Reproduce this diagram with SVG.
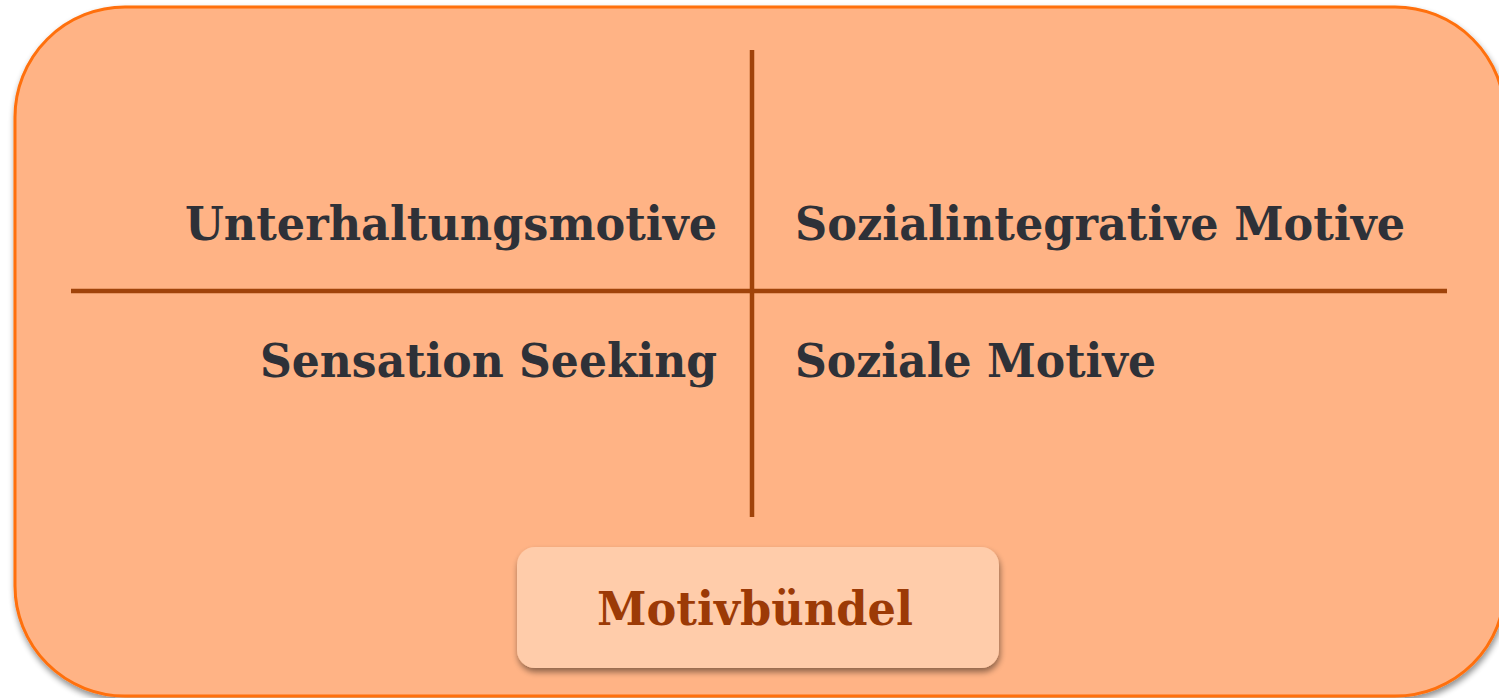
<svg xmlns="http://www.w3.org/2000/svg" width="1499" height="698" viewBox="0 0 1499 698">
<style>
.lbl{font-family:"DejaVu Serif","Liberation Serif",serif;font-weight:bold;font-size:47px;fill:#2E3138}
.div{stroke:#A0430A;stroke-width:4.5;fill:none}
.mb{font-family:"DejaVu Serif","Liberation Serif",serif;font-weight:bold;font-size:47px;fill:#9C3A06}
</style>
<defs>
<filter id="sh" x="-10%" y="-10%" width="120%" height="130%">
<feGaussianBlur in="SourceAlpha" stdDeviation="3"/>
<feOffset dx="1" dy="4" result="b"/>
<feComponentTransfer><feFuncA type="linear" slope="0.45"/></feComponentTransfer>
<feMerge><feMergeNode/><feMergeNode in="SourceGraphic"/></feMerge>
</filter>
</defs>
<rect width="1499" height="698" fill="#FFFFFF"/>
<g id="outer">
<rect x="15" y="7" width="1490" height="689" rx="110" ry="110" fill="#FFB385" stroke="#FF6F0A" stroke-width="3" filter="url(#sh)"/>
</g>
<g id="connectors">
<line class="div" x1="752" y1="50" x2="752" y2="517"/>
<line class="div" x1="71" y1="291" x2="1447" y2="291"/>
</g>
<g id="unterhaltung"><text class="lbl" x="717" y="240" text-anchor="end" textLength="532" lengthAdjust="spacingAndGlyphs">Unterhaltungsmotive</text></g>
<g id="sozialintegrativ"><text class="lbl" x="795" y="240" textLength="610" lengthAdjust="spacingAndGlyphs">Sozialintegrative Motive</text></g>
<g id="sensation"><text class="lbl" x="717" y="377" text-anchor="end" textLength="457" lengthAdjust="spacingAndGlyphs">Sensation Seeking</text></g>
<g id="soziale"><text class="lbl" x="795" y="377" textLength="361" lengthAdjust="spacingAndGlyphs">Soziale Motive</text></g>
<g id="motivbuendel">
<rect x="517" y="547" width="482" height="121" rx="18" ry="18" fill="#FFCCAA" filter="url(#sh)"/>
<text class="mb" x="597" y="625" textLength="316" lengthAdjust="spacingAndGlyphs">Motivbündel</text>
</g>
</svg>
